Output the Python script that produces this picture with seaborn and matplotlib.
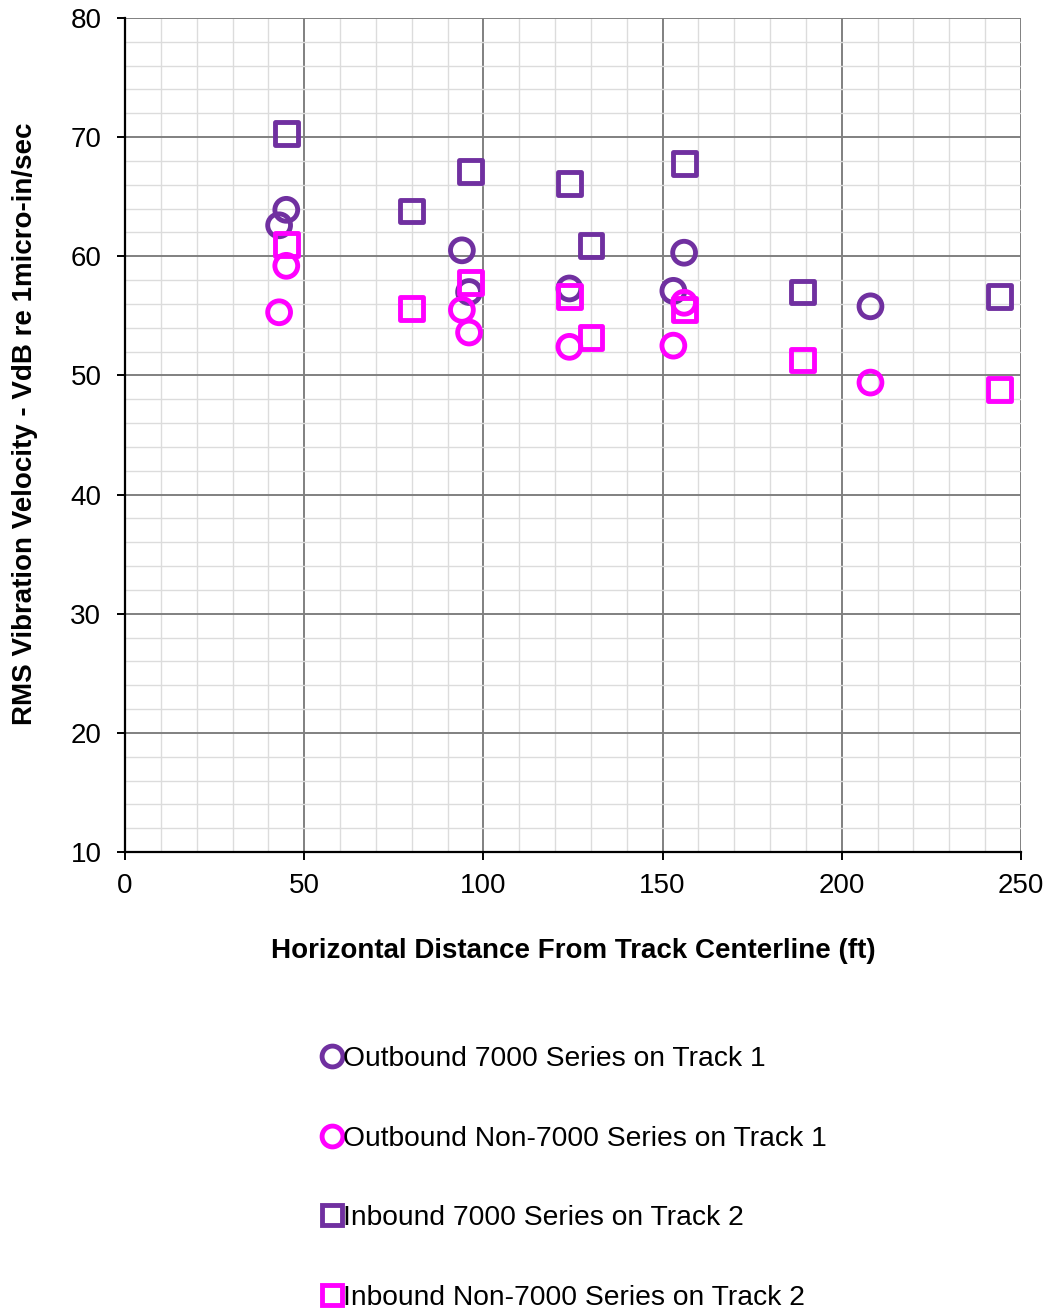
import matplotlib
matplotlib.use("Agg")
import matplotlib.pyplot as plt
import seaborn as sns
import pandas as pd
from matplotlib.lines import Line2D
from matplotlib.ticker import MultipleLocator

# ---- data ----
out7000_x = [43, 45, 94, 96, 124, 153, 156, 208]
out7000_y = [62.6, 63.9, 60.5, 57.0, 57.3, 57.1, 60.3, 55.8]

outnon_x = [43, 45, 94, 96, 124, 153, 156, 208]
outnon_y = [55.3, 59.2, 55.5, 53.6, 52.4, 52.5, 56.1, 49.4]

in7000_x = [45, 80, 96.5, 124, 130, 156, 189, 244]
in7000_y = [70.3, 63.8, 67.1, 66.1, 60.9, 67.8, 57.0, 56.6]

innon_x = [45, 80, 96.5, 124, 130, 156, 189, 244]
innon_y = [61.0, 55.6, 57.8, 56.6, 53.2, 55.5, 51.3, 48.8]

labels = ["Outbound 7000 Series on Track 1",
          "Outbound Non-7000 Series on Track 1",
          "Inbound 7000 Series on Track 2",
          "Inbound Non-7000 Series on Track 2"]

PURPLE = "#7030A0"
MAGENTA = "#FF00FF"

sns.set_style("white")
plt.rcParams['font.family'] = ['Liberation Sans', 'DejaVu Sans']
plt.rcParams['text.color'] = 'black'
plt.rcParams['axes.labelcolor'] = 'black'
plt.rcParams['xtick.color'] = 'black'
plt.rcParams['ytick.color'] = 'black'

fig = plt.figure(figsize=(10.49, 13.10), dpi=100)
ax = fig.add_axes([125/1049, 1-852/1310, 896/1049, 834/1310])

series = [
    (out7000_x, out7000_y, PURPLE, "o", labels[0]),
    (outnon_x, outnon_y, MAGENTA, "o", labels[1]),
    (in7000_x, in7000_y, PURPLE, "s", labels[2]),
    (innon_x, innon_y, MAGENTA, "s", labels[3]),
]
for xs, ys, col, mk, lab in series:
    df = pd.DataFrame({"x": xs, "y": ys})
    sns.scatterplot(data=df, x="x", y="y", ax=ax, marker=mk, s=270,
                    facecolors="none", edgecolor=col, linewidth=3.5,
                    zorder=3, legend=False)

ax.set_xlim(0, 250)
ax.set_ylim(10, 80)
ax.xaxis.set_major_locator(MultipleLocator(50))
ax.xaxis.set_minor_locator(MultipleLocator(10))
ax.yaxis.set_major_locator(MultipleLocator(10))
ax.yaxis.set_minor_locator(MultipleLocator(2))
ax.grid(which="major", color="#808080", linewidth=1.4, zorder=1)
ax.grid(which="minor", color="#dcdcdc", linewidth=1.0, zorder=0)
ax.set_axisbelow(True)
for s in ["top", "right"]:
    ax.spines[s].set_visible(False)
for s in ["left", "bottom"]:
    ax.spines[s].set_color("black")
    ax.spines[s].set_linewidth(1.6)
ax.tick_params(axis="y", which="major", direction="out", length=6,
               width=1.4, labelsize=20, pad=11, left=True)
ax.tick_params(axis="x", which="major", direction="out", length=6,
               width=1.4, labelsize=20, pad=9, bottom=True)
ax.tick_params(which="minor", length=0)

ax.set_xlabel("Horizontal Distance From Track Centerline (ft)",
              fontsize=20, fontweight="bold", labelpad=28)
ax.set_ylabel("RMS Vibration Velocity - VdB re 1micro-in/sec",
              fontsize=20, fontweight="bold", labelpad=23)
ax.yaxis.label.set_y(0.513)

handles = [Line2D([], [], linestyle="none", marker=mk, markersize=15,
                  markerfacecolor="none", markeredgecolor=col, markeredgewidth=3.5)
           for _, _, col, mk, _ in series]
fig.legend(handles, labels, loc="upper left", bbox_to_anchor=(318/1049, 1-1046/1310),
           frameon=False, fontsize=20.3, handletextpad=-0.1, labelspacing=1.9,
           handlelength=1.0, borderaxespad=0, borderpad=0)

fig.savefig("out.png", dpi=100)
